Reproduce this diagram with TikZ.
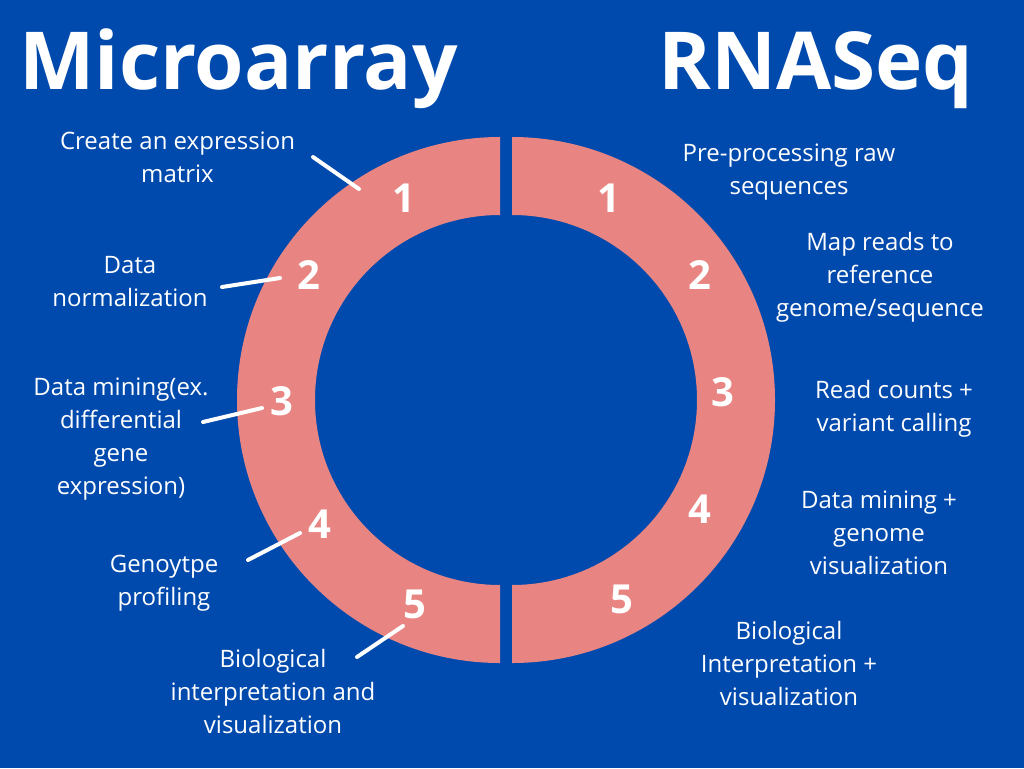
\documentclass[tikz,border=0pt]{standalone}
\usepackage{fontspec}
\setmainfont{Open Sans}
\definecolor{bgblue}{RGB}{0,74,173}
\definecolor{ringpink}{RGB}{232,133,130}
\begin{document}
\begin{tikzpicture}[x=0.75pt,y=-0.75pt,
  lbl/.style={text=white, font=\fontsize{18}{24.75}\selectfont, align=center, anchor=base, inner sep=0pt},
  num/.style={text=white, font=\fontsize{30}{36}\selectfont\bfseries, inner sep=0pt},
  ttl/.style={text=white, font=\fontsize{60}{70}\selectfont\bfseries, anchor=base, inner sep=0pt},
  lead/.style={white, line width=3pt, line cap=round}]
\fill[bgblue] (0,0) rectangle (1024,768);
\useasboundingbox (0,0) rectangle (1024,768);

% titles
\node[ttl] (tmicro) at (238.5,89) {Microarray};
\node[ttl] (trna) at (816,89) {RNASeq};

% ring halves
\fill[ringpink] (500,137) arc[start angle=90,end angle=270,radius=197.25pt]
  -- (500,585) arc[start angle=270,end angle=90,radius=138.75pt] -- cycle;
\fill[ringpink] (512,137) arc[start angle=90,end angle=-90,radius=197.25pt]
  -- (512,585) arc[start angle=-90,end angle=90,radius=138.75pt] -- cycle;

% numbers left
\node[num] (m1) at (404,198) {1};
\node[num] (m2) at (309,275) {2};
\node[num] (m3) at (282,401) {3};
\node[num] (m4) at (320,524) {4};
\node[num] (m5) at (415,604) {5};
% numbers right
\node[num] (r1) at (609,198) {1};
\node[num] (r2) at (700,275) {2};
\node[num] (r3) at (723,392) {3};
\node[num] (r4) at (700,509) {4};
\node[num] (r5) at (622,599) {5};

% left labels (anchor = baseline of last line)
\node[lbl] (ml1) at (177.5,182) {Create an expression\\matrix};
\node[lbl] (ml2) at (130,306) {Data\\normalization};
\node[lbl] (ml3) at (121,494) {Data mining(ex.\\differential\\gene\\expression)};
\node[lbl] (ml4) at (164,605) {Genoytpe\\profiling};
\node[lbl] (ml5) at (273,733) {Biological\\interpretation and\\visualization};

% right labels
\node[lbl] (rl1) at (789,194) {Pre-processing raw\\sequences};
\node[lbl] (rl2) at (880,316) {Map reads to\\reference\\genome/sequence};
\node[lbl] (rl3) at (894,431) {Read counts +\\variant calling};
\node[lbl] (rl4) at (879,574) {Data mining +\\genome\\visualization};
\node[lbl] (rl5) at (789,705) {Biological\\Interpretation +\\visualization};

% leader lines
\coordinate (a1) at (313,157); \coordinate (b1) at (359,189);
\coordinate (a2) at (222,287); \coordinate (b2) at (280,278);
\coordinate (a3) at (203,422); \coordinate (b3) at (262,408);
\coordinate (a4) at (248,560); \coordinate (b4) at (300,533);
\coordinate (a5) at (357,657); \coordinate (b5) at (403,626);
\draw[lead] (a1) -- (b1);
\draw[lead] (a2) -- (b2);
\draw[lead] (a3) -- (b3);
\draw[lead] (a4) -- (b4);
\draw[lead] (a5) -- (b5);
\end{tikzpicture}
\end{document}
